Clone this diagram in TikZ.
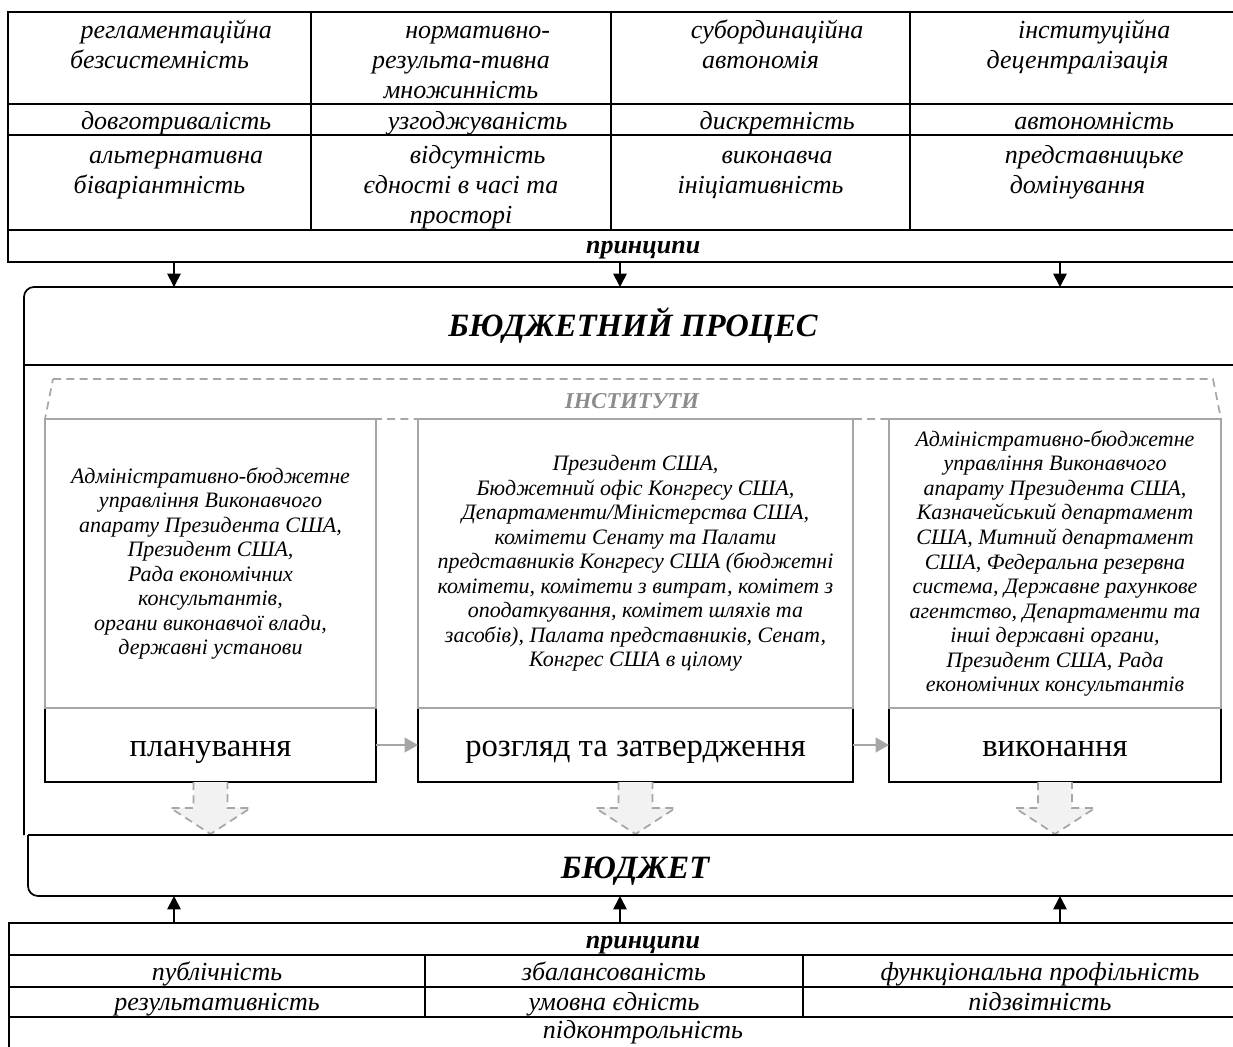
\documentclass[tikz,border=0pt]{standalone}
\usepackage{fontspec}
\setmainfont{Liberation Serif}
\usetikzlibrary{arrows.meta,positioning}
\definecolor{linegray}{HTML}{A6A6A6}
\definecolor{textgray}{HTML}{8C8C8C}
\definecolor{fillgray}{HTML}{F2F2F2}
\newcommand{\tabfont}{\fontsize{19.5}{22.5}\selectfont\itshape}
\newcommand{\instfont}{\fontsize{16.5}{18.4}\selectfont\itshape}
\newcommand{\headfont}{\fontsize{24.4}{28}\selectfont\bfseries\itshape}
\newcommand{\stagefont}{\fontsize{24.5}{28}\selectfont}
\newcommand{\findent}{\hspace*{25pt}}

\begin{document}
\begin{tikzpicture}[x=0.75pt,y=-0.75pt,
    rule/.style={line width=1.3pt},
    cell/.style={font=\tabfont,align=center,inner sep=0pt,anchor=north},
    bcell/.style={font=\tabfont,inner sep=0pt,anchor=base},
    instbox/.style={draw=linegray,line width=1pt,font=\instfont,align=center,inner sep=0pt,outer sep=0pt,minimum height=216.75pt},
    stagebox/.style={draw,line width=1.3pt,font=\stagefont,text height=23pt,text depth=5.4pt,inner sep=0pt,outer sep=0pt,minimum height=55.5pt},
    arr/.style={line width=1.3pt,-{Triangle[length=10pt,width=10pt]}},
    garr/.style={draw=linegray,line width=1.5pt,-{Triangle[length=10pt,width=11pt]}},
    blockarr/.style={draw=linegray,fill=fillgray,line width=1.3pt,dash pattern=on 6pt off 4pt}]
  \useasboundingbox (0,0) rectangle (1233,1047); \clip (0,0) rectangle (1233,1047);

  \draw[rule] (8,12) rectangle (1245,262); \foreach \y in {104,135,230} { \draw[rule] (8,\y)--(1245,\y); }
  \foreach \x in {311,611,910} { \draw[rule] (\x,12)--(\x,230); }
  \node[cell] (reg) at (159.5,17) {\strut\findent регламентаційна\\безсистемність};
  \node[cell] (norm) at (461,17) {\strut\findent нормативно-\\результа-тивна\\множинність};
  \node[cell] (sub) at (760.5,17) {\strut\findent субординаційна\\автономія};
  \node[cell] (inst) at (1077.5,17) {\strut\findent інституційна\\децентралізація};
  \node[cell] (dovg) at (159.5,108) {\strut\findent довготривалість};
  \node[cell] (uzg) at (461,108) {\strut\findent узгоджуваність};
  \node[cell] (diskr) at (760.5,108) {\strut\findent дискретність};
  \node[cell] (avt) at (1077.5,108) {\strut\findent автономність};
  \node[cell] (alt) at (159.5,142) {\strut\findent альтернативна\\біваріантність};
  \node[cell] (vids) at (461,142) {\strut\findent відсутність\\єдності в часі та\\просторі};
  \node[cell] (vyk) at (760.5,142) {\strut\findent виконавча\\ініціативність};
  \node[cell] (pred) at (1077.5,142) {\strut\findent представницьке\\домінування};
  \node[cell,font=\tabfont\bfseries] (princtop) at (626.5,232) {\strut\findent принципи};

  \draw[rule,rounded corners=7.5pt] (24,835) -- (24,287) -- (1280,287); \draw[rule] (24,365) -- (1280,365);
  \node[font=\headfont,anchor=base] (proc) at (633,336) {БЮДЖЕТНИЙ ПРОЦЕС};
  \foreach \x [count=\i] in {174,620,1060} { \coordinate (pa\i) at (\x,262); \coordinate (pb\i) at (\x,287); \draw[arr] (pa\i) -- (pb\i); }

  \draw[linegray,line width=1.3pt,dash pattern=on 6pt off 4pt] (53,379) -- (1213,379) -- (1221,419) -- (45,419) -- cycle;
  \node[font=\fontsize{17}{20}\selectfont\bfseries\itshape,text=textgray,anchor=base] (instlbl) at (632,408) {ІНСТИТУТИ};

  \node[stagebox,minimum width=248.25pt] (plan) at (210.5,745) {планування};
  \node[stagebox,minimum width=326.25pt] (review) at (635.5,745) {розгляд та затвердження};
  \node[stagebox,minimum width=249pt] (exec) at (1055,745) {виконання};
  \node[instbox,minimum width=248.25pt,above=0pt of plan] (inst1) {Адміністративно-бюджетне\\управління Виконавчого\\апарату Президента США,\\Президент США,\\Рада економічних\\консультантів,\\органи виконавчої влади,\\державні установи};
  \node[instbox,minimum width=326.25pt,above=0pt of review] (inst2) {Президент США,\\Бюджетний офіс Конгресу США,\\Департаменти/Міністерства США,\\комітети Сенату та Палати\\представників Конгресу США (бюджетні\\комітети, комітети з витрат, комітет з\\оподаткування, комітет шляхів та\\засобів), Палата представників, Сенат,\\Конгрес США в цілому};
  \node[instbox,minimum width=249pt,above=0pt of exec] (inst3) {Адміністративно-бюджетне\\управління Виконавчого\\апарату Президента США,\\Казначейський департамент\\США, Митний департамент\\США, Федеральна резервна\\система, Державне рахункове\\агентство, Департаменти та\\інші державні органи,\\Президент США, Рада\\економічних консультантів};
  \draw[garr] (plan) -- (review); \draw[garr] (review) -- (exec);
  \foreach \n in {plan,review,exec} { \begin{scope}[shift={(\n.south)}] \draw[blockarr] (-17,0) -- (-17,26) -- (-40,26) -- (0,52) -- (40,26) -- (17,26) -- (17,0); \end{scope} }

  \draw[rule] (28,835) -- (1280,835); \draw[rule,rounded corners=7.5pt] (28,835) -- (28,896) -- (1280,896);
  \node[font=\headfont,anchor=base] (budg) at (635,878) {БЮДЖЕТ};
  \foreach \x [count=\i] in {174,620,1060} { \coordinate (qa\i) at (\x,923); \coordinate (qb\i) at (\x,896); \draw[arr] (qa\i) -- (qb\i); }

  \draw[rule] (9,923) rectangle (1277,1060); \foreach \y in {955,987,1017} { \draw[rule] (9,\y)--(1277,\y); }
  \foreach \x in {425,803} { \draw[rule] (\x,955)--(\x,1017); }
  \node[bcell,font=\tabfont\bfseries] (princbot) at (643,948) {принципи};
  \node[bcell] (publ) at (217,980) {публічність}; \node[bcell] (zbal) at (614,980) {збалансованість};
  \node[bcell] (funk) at (1040,980) {функціональна профільність};
  \node[bcell] (rez) at (217,1010) {результативність}; \node[bcell] (umov) at (614,1010) {умовна єдність};
  \node[bcell] (pidzv) at (1040,1010) {підзвітність};
  \node[bcell] (pidk) at (643,1038) {підконтрольність};
\end{tikzpicture}
\end{document}
